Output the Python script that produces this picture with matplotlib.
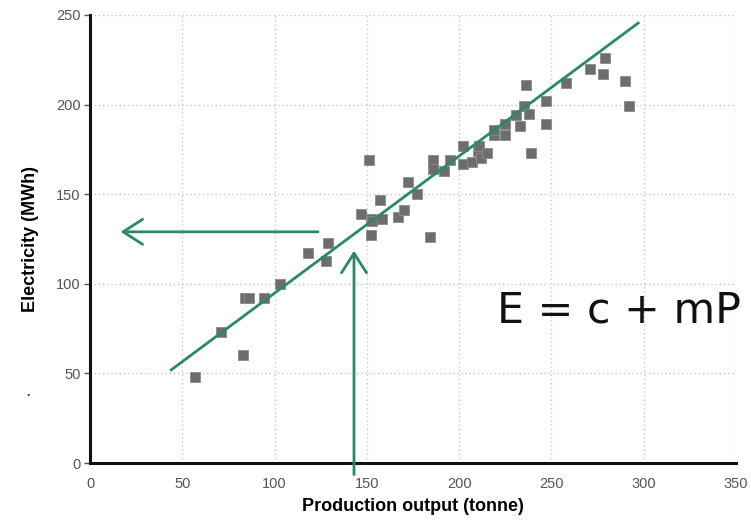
import matplotlib.pyplot as plt

# production output (tonne) vs electricity (MWh)
production = [57, 71, 83, 84, 86, 94, 103, 118, 128, 129,
              147, 151, 152, 153, 152, 157, 158, 167, 170, 172,
              177, 184, 186, 186, 192, 195, 202, 202, 207, 210,
              211, 212, 215, 219, 219, 225, 225, 231, 233, 235,
              238, 236, 239, 247, 247, 258, 271, 278, 279, 290, 292]
electricity = [48, 73, 60, 92, 92, 92, 100, 117, 113, 123,
               139, 169, 136, 135, 127, 147, 136, 137, 141, 157,
               150, 126, 169, 164, 163, 169, 167, 177, 168, 174,
               177, 170, 173, 183, 186, 183, 189, 194, 188, 199,
               195, 211, 173, 189, 202, 212, 220, 217, 226, 213, 199]

# fitted line end points
fit_x = [44, 297]
fit_y = [52, 245.5]

# reading arrows: P -> E
arrow_p = 143
arrow_e = 129

xticks = [0, 50, 100, 150, 200, 250, 300, 350]
yticks = [0, 50, 100, 150, 200, 250]

green = '#2b8a64'

plt.rcParams['font.family'] = ['Liberation Sans', 'DejaVu Sans']

fig = plt.figure(figsize=(7.51, 5.24), dpi=100)
ax = fig.add_axes([0.12, 0.1164, 0.86, 0.855])

ax.set_xlim(0, 350)
ax.set_ylim(0, 250)
ax.set_xticks(xticks)
ax.set_yticks(yticks)

ax.grid(True, linestyle=(0, (1, 2)), color='#c8c8c8', linewidth=1)
ax.set_axisbelow(True)

for s in ['top', 'right']:
    ax.spines[s].set_visible(False)
for s in ['left', 'bottom']:
    ax.spines[s].set_linewidth(2.2)
    ax.spines[s].set_color('#111111')

ax.tick_params(axis='both', colors='#555555', labelsize=10.5, length=4, width=1)
ax.tick_params(axis='x', length=0, pad=10)
ax.tick_params(axis='y', pad=3)

ax.plot(production, electricity, linestyle='none', marker='s', markersize=6.5,
        markerfacecolor='#6d6d6d', markeredgecolor='#8a8a8a', markeredgewidth=0.6, zorder=3)

ax.plot(fit_x, fit_y, color=green, linewidth=2, zorder=4)

ax.annotate('', xy=(15, arrow_e), xytext=(125, arrow_e),
            arrowprops=dict(arrowstyle='->,head_length=0.7,head_width=0.45',
                            color=green, lw=2, mutation_scale=20))
ax.annotate('', xy=(arrow_p, 120), xytext=(arrow_p, -8), annotation_clip=False,
            arrowprops=dict(arrowstyle='->,head_length=0.7,head_width=0.45',
                            color=green, lw=2, mutation_scale=20))

ax.set_xlabel('Production output (tonne)', fontsize=13, fontweight='bold', labelpad=5)
ax.set_ylabel('Electricity (MWh)', fontsize=13, fontweight='bold', labelpad=12)

fig.text(0.662, 0.385, 'E = c + mP', fontsize=30.8, family=['DejaVu Sans'],
         color='#111111')
fig.text(0.033, 0.245, '.', fontsize=14, color='#333333')

fig.savefig('out.png', dpi=100)
